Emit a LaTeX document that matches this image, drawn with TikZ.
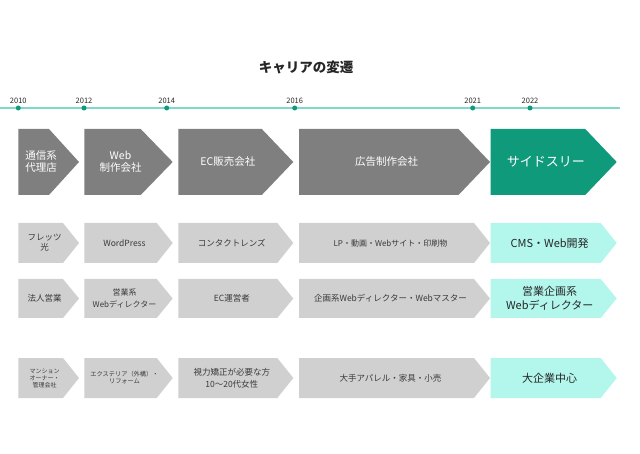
\documentclass[tikz,border=0pt]{standalone}
\usepackage{fontspec}
\setmainfont{Noto Sans CJK JP}
\definecolor{darkg}{HTML}{7F7F7F}
\definecolor{brand}{HTML}{0F9A7B}
\definecolor{lightg}{HTML}{D0D0D0}
\definecolor{mint}{HTML}{B3F7EC}
\definecolor{tline}{HTML}{7ED9C8}
\definecolor{txtg}{HTML}{3A3A3A}
\tikzset{
  darkbox/.style={fill=darkg},
  darkbox txt/.style={text=white,font=\fontsize{10.5}{12}\selectfont,align=center,inner sep=0pt},
  greenbox/.style={fill=brand},
  greenbox txt/.style={text=white,font=\fontsize{13}{15}\selectfont,align=center,inner sep=0pt},
  graybox/.style={fill=lightg},
  graybox txt/.style={text=txtg,font=\fontsize{8.5}{12.5}\selectfont,align=center,inner sep=0pt},
  mintbox/.style={fill=mint},
  mintbox txt/.style={text=black!85,font=\fontsize{11}{14.5}\selectfont,align=center,inner sep=0pt},
  yeardot/.style={circle,fill=brand,inner sep=0pt,minimum size=5pt},
  yearlbl/.style={text=black!85,font=\fontsize{7.5}{8}\selectfont,inner sep=0pt},
  fs/.style 2 args={font=\fontsize{#1}{#2}\selectfont},
}
% #1 name, #2 left, #3 tip, #4 top, #5 bottom, #6 depth, #7 style, #8 extra opts, #9 text
\newcommand\chevron[9]{%
  \fill[#7] (#2,#4) -- ({#3-#6},#4) -- (#3,{(#4+#5)/2}) -- ({#3-#6},#5) -- (#2,#5) -- cycle;
  \node[#7 txt,#8] (#1) at ({(#2+#3-#6*0.5)/2},{(#4+#5)/2}) {#9};
}
\begin{document}
\begin{tikzpicture}[x=1pt,y=-1pt]
\useasboundingbox (0,0) rectangle (640,454);
% title
\node[font=\fontsize{13.5}{15}\selectfont\bfseries,text=black!85,inner sep=0pt] (title) at (306,67) {キャリアの変遷};
% timeline
\coordinate (tl0) at (0,108);
\coordinate (tl1) at (620,108);
\draw[draw=tline,line width=1.3pt] (tl0) -- (tl1);
\foreach \x/\y [count=\i] in {18.3/2010,84/2012,166.7/2014,294.7/2016,472.7/2021,530/2022}{
  \node[yeardot] (d\i) at (\x,108) {};
  \node[yearlbl] (y\i) at (\x,100.5) {\y};
}
% row 1
\chevron{a1}{18.3}{79}{129}{195}{30}{darkbox}{}{通信系\\代理店}
\chevron{a2}{84.3}{172.7}{129}{195}{32}{darkbox}{}{Web\\制作会社}
\chevron{a3}{178.3}{293.3}{129}{195}{31.5}{darkbox}{}{EC販売会社}
\chevron{a4}{299}{490}{129}{195}{31.5}{darkbox}{}{広告制作会社}
\chevron{a5}{490.7}{616.7}{129}{195}{31.5}{greenbox}{}{サイドスリー}
% row 2
\chevron{b1}{18.3}{79}{223}{263}{16}{graybox}{fs={8.5}{10}}{フレッツ\\光}
\chevron{b2}{84.3}{172.7}{223}{263}{16}{graybox}{}{WordPress}
\chevron{b3}{178.3}{293.3}{223}{263}{16}{graybox}{}{コンタクトレンズ}
\chevron{b4}{299}{490}{223}{263}{16}{graybox}{fs={8}{10}}{LP・動画・Webサイト・印刷物}
\chevron{b5}{490.7}{616.7}{223}{263}{16}{mintbox}{}{CMS・Web開発}
% row 3
\chevron{c1}{18.3}{79}{279}{318}{16}{graybox}{}{法人営業}
\chevron{c2}{84.3}{172.7}{279}{318}{16}{graybox}{fs={8}{12.5}}{営業系\\Webディレクター}
\chevron{c3}{178.3}{293.3}{279}{318}{16}{graybox}{}{EC運営者}
\chevron{c4}{299}{490}{279}{318}{16}{graybox}{}{企画系Webディレクター・Webマスター}
\chevron{c5}{490.7}{616.7}{279}{318}{16}{mintbox}{}{営業企画系\\Webディレクター}
% row 4
\chevron{e1}{18.3}{79}{358}{398}{16}{graybox}{fs={6}{7}}{マンション\\オーナー・\\管理会社}
\chevron{e2}{84.3}{172.7}{358}{398}{16}{graybox}{fs={6.2}{7}}{エクステリア（外構）・\\リフォーム}
\chevron{e3}{178.3}{293.3}{358}{398}{16}{graybox}{fs={8.5}{12}}{視力矯正が必要な方\\10〜20代女性}
\chevron{e4}{299}{490}{358}{398}{16}{graybox}{}{大手アパレル・家具・小売}
\chevron{e5}{490.7}{616.7}{358}{398}{16}{mintbox}{}{大企業中心}
\end{tikzpicture}
\end{document}
